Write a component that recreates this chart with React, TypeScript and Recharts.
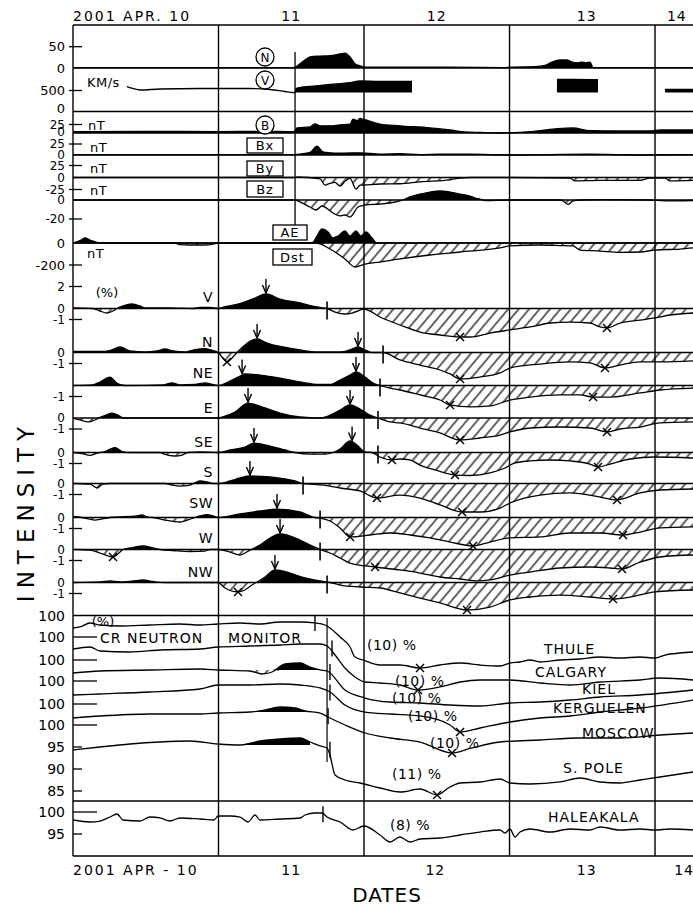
import React from 'react';
import { ComposedChart, Line, Area, Scatter, XAxis, YAxis, ReferenceLine } from 'recharts';

const W = 693;
const H = 907;
const T0 = 10;
const T1 = 14.261;
const FONT = '"DejaVu Sans", "Liberation Sans", Arial, sans-serif';
const HATCH = 'hatch45';

type P = [number, number | null];

// ---------- time axis ----------
const DAY_LINES = [11, 12, 13, 14];
const SHOCK_TIME = 11.526;
const NM_ONSET_TIME = 11.746;
const TOP_TICKS = [10.0, 11.5, 12.5, 13.53, 14.15];
const TOP_TICK_LABELS = ['2001 APR. 10', '11', '12', '13', '14'];
const BOTTOM_TICKS = [10.0, 11.5, 12.49, 13.53, 14.2];
const BOTTOM_TICK_LABELS = ['2001 APR - 10', '11', '12', '13', '14'];

// ---------- solar wind / IMF / geomagnetic ----------
const SW_DENSITY: P[] = [[10.0,1],[11.51,1],[11.526,2],[11.56,10],[11.595,19],[11.629,26],[11.698,28],[11.766,29],[11.835,33],[11.869,35],[11.904,26],[11.938,10],[11.973,5],[12.007,2],[12.247,2],[12.591,2],[12.969,1],[13.003,2],[13.175,3],[13.244,6],[13.292,14],[13.347,19],[13.395,19],[13.43,14],[13.471,12],[13.498,14],[13.526,12],[13.553,14],[13.574,1],[14.261,1]];
const SW_SPEED: P[] = [[10.371,595],[10.412,548],[10.46,512],[10.598,536],[10.873,548],[10.997,548],[11.216,548],[11.354,524],[11.457,476],[11.512,452],[11.526,450],[11.533,548],[11.56,571],[11.629,595],[11.766,643],[11.904,690],[11.973,726],[12.11,714],[12.247,714],[12.33,714],[12.337,null],[13.326,762],[13.45,762],[13.608,756],[13.612,null],[14.069,524],[14.261,524]];
const IMF_B: P[] = [[10.0,4],[10.5,5],[11.0,4],[11.3,5],[11.52,4],[11.54,15],[11.629,18],[11.663,27],[11.698,21],[11.766,21],[11.835,24],[11.904,26],[11.924,41],[11.952,36],[11.973,43],[12.0,40],[12.11,26],[12.247,21],[12.454,15],[12.591,9],[12.694,3],[12.797,1.5],[12.935,0],[13.003,0.5],[13.141,4],[13.313,12],[13.436,15],[13.553,7],[13.759,6],[13.966,6],[14.034,9],[14.261,9]];
const IMF_BX: P[] = [[10.0,1],[11.0,1],[11.526,1],[11.56,2],[11.629,6],[11.677,20],[11.718,7],[11.766,5],[11.835,4],[11.973,5],[12.11,2],[12.247,3],[12.385,1],[12.522,2],[12.729,2],[13.003,0],[13.553,2],[13.897,0],[14.261,1]];
const IMF_BY: P[] = [[10.0,0],[11.526,0],[11.54,1],[11.698,-3],[11.732,-16],[11.766,-12],[11.801,-10],[11.835,-18],[11.869,-8],[11.904,-2],[11.945,-24],[11.973,-16],[12.0,-15.6],[12.11,-13.5],[12.247,-13],[12.385,-9],[12.591,-5],[12.66,-1],[12.729,0],[13.003,0],[13.416,-1],[13.45,-7],[13.622,-6],[13.897,-6],[13.966,-1],[14.069,-1],[14.103,-7],[14.261,-6]];
const IMF_BZ: P[] = [[10.0,0],[11.526,0],[11.56,-2],[11.629,-7.4],[11.67,-10.5],[11.711,-6.3],[11.787,-13.7],[11.835,-16.8],[11.869,-15.8],[11.904,-17.9],[11.959,-7.4],[12.007,-5.3],[12.11,-4.2],[12.213,-2.1],[12.268,0],[12.316,3.2],[12.385,6.3],[12.454,8.4],[12.522,9.5],[12.591,8.4],[12.66,6.3],[12.729,4.2],[12.763,2.1],[12.797,1],[12.832,-0.5],[13.003,0],[13.347,0],[13.368,-1],[13.402,-4.7],[13.436,-1],[13.485,0],[13.622,0.5],[13.966,0],[14.069,-1],[14.261,-0.5]];
const AE_INDEX: P[] = [[10.0,0],[10.048,200],[10.082,420],[10.117,250],[10.186,0],[11.643,0],[11.677,580],[11.711,1170],[11.753,920],[11.787,420],[11.821,580],[11.869,1000],[11.904,580],[11.945,1000],[11.979,580],[12.014,920],[12.055,420],[12.089,0],[14.261,0]];
const DST_INDEX: P[] = [[10.0,0],[10.7,0],[10.735,-15],[10.804,-18],[10.907,-18],[10.962,-10],[11.0,0],[11.67,0],[11.766,-55],[11.869,-145],[11.938,-218],[12.007,-191],[12.11,-173],[12.247,-145],[12.454,-109],[12.66,-82],[12.935,-45],[13.003,-27],[13.21,-18],[13.347,-23],[13.436,-27],[13.485,-64],[13.622,-73],[13.759,-86],[13.897,-82],[14.0,-64],[14.172,-55],[14.261,-45]];

// ---------- directional muon channels (%) ----------
const MU_V: P[] = [[10.0,0.05],[10.137,0],[10.186,-0.23],[10.234,-0.41],[10.275,-0.23],[10.302,0],[10.344,0.23],[10.405,0.41],[10.46,0.23],[10.495,0.05],[10.667,0.05],[10.825,0],[10.873,0.09],[10.942,0.09],[10.997,0],[11.024,0.09],[11.148,0.45],[11.251,0.95],[11.326,1.32],[11.423,0.86],[11.56,0.5],[11.629,0.27],[11.698,0.09],[11.746,0],[11.801,-0.32],[11.869,-0.5],[11.918,-0.41],[11.959,-0.23],[11.993,-0.05],[12.014,-0.09],[12.11,-0.77],[12.247,-1.5],[12.385,-2.14],[12.522,-2.41],[12.66,-2.59],[12.729,-2.59],[12.866,-2.23],[13.003,-1.95],[13.141,-1.68],[13.278,-1.32],[13.416,-1.23],[13.553,-1.32],[13.622,-1.68],[13.67,-1.77],[13.759,-1.32],[13.897,-1.05],[14.0,-0.86],[14.103,-0.59],[14.261,-0.41]];
const MU_N: P[] = [[10.0,0.09],[10.186,0.09],[10.254,0.18],[10.323,0.5],[10.392,0.14],[10.495,0.05],[10.577,0.14],[10.632,0.32],[10.687,0.14],[10.77,0.05],[10.838,0.27],[10.907,0.36],[10.962,0.18],[10.997,0],[11.024,-0.41],[11.058,-0.86],[11.093,-0.5],[11.127,0],[11.182,0.68],[11.237,1.14],[11.265,1.23],[11.333,0.86],[11.443,0.5],[11.56,0.23],[11.677,0.05],[11.835,0.05],[11.883,0.14],[11.924,0.36],[11.959,0.5],[12.007,0.23],[12.055,0],[12.131,0],[12.247,-0.68],[12.385,-1.14],[12.522,-1.59],[12.591,-1.95],[12.66,-2.41],[12.797,-2.23],[12.935,-1.86],[13.003,-1.41],[13.21,-1.05],[13.416,-0.86],[13.553,-0.95],[13.656,-1.41],[13.759,-1.14],[13.897,-0.86],[14.034,-0.86],[14.261,-0.77]];
const MU_NE: P[] = [[10.0,0],[10.131,0.05],[10.186,0.32],[10.254,0.77],[10.309,0.14],[10.357,0],[10.619,0.05],[10.68,0.23],[10.735,0.05],[10.838,0.09],[10.907,0.23],[10.962,0.09],[10.997,0],[11.079,0.41],[11.148,0.86],[11.182,1.05],[11.285,0.95],[11.423,0.68],[11.56,0.32],[11.698,0.09],[11.766,0.09],[11.835,0.5],[11.904,0.95],[11.945,1.23],[12.007,0.77],[12.062,0.23],[12.11,0],[12.179,-0.23],[12.247,-0.41],[12.385,-0.86],[12.522,-1.32],[12.591,-1.77],[12.729,-1.95],[12.866,-1.86],[13.003,-1.32],[13.141,-1.05],[13.347,-0.86],[13.485,-0.86],[13.574,-1.05],[13.691,-1.05],[13.897,-0.68],[14.034,-0.41],[14.261,-0.23]];
const MU_E: P[] = [[10.0,0],[10.048,-0.18],[10.103,-0.36],[10.165,-0.09],[10.186,0.05],[10.227,0.27],[10.268,0.45],[10.309,0.27],[10.344,0],[10.997,0],[11.024,0.09],[11.113,0.55],[11.203,1.36],[11.32,0.91],[11.423,0.45],[11.56,0.09],[11.698,0],[11.753,0.18],[11.835,0.73],[11.904,1.18],[11.973,0.82],[12.041,0.27],[12.096,0],[12.179,-0.36],[12.247,-0.45],[12.385,-0.91],[12.522,-1.36],[12.66,-2.0],[12.797,-1.82],[12.935,-1.55],[13.003,-1.27],[13.141,-0.91],[13.347,-0.82],[13.553,-0.91],[13.67,-1.27],[13.759,-1.0],[13.897,-0.82],[14.034,-0.45],[14.261,-0.36]];
const MU_SE: P[] = [[10.0,0],[10.062,-0.09],[10.117,-0.27],[10.165,-0.05],[10.22,0.09],[10.289,0.45],[10.337,0.09],[10.392,0],[10.598,0],[10.632,-0.18],[10.701,-0.32],[10.749,-0.23],[10.79,0],[10.873,0.05],[10.997,0],[11.079,0.23],[11.182,0.5],[11.244,0.86],[11.354,0.59],[11.457,0.23],[11.526,0],[11.629,-0.14],[11.732,-0.14],[11.787,0],[11.835,0.32],[11.904,1.05],[11.959,0.59],[12.007,0.05],[12.055,0],[12.11,-0.41],[12.192,-0.68],[12.247,-0.59],[12.316,-0.68],[12.385,-1.14],[12.488,-1.59],[12.625,-2.05],[12.729,-2.09],[12.866,-1.86],[12.969,-1.41],[13.038,-0.95],[13.141,-0.77],[13.278,-0.68],[13.416,-0.77],[13.553,-1.05],[13.608,-1.32],[13.691,-1.05],[13.828,-0.59],[14.0,-0.41],[14.261,-0.5]];
const MU_S: P[] = [[10.0,0],[10.117,-0.05],[10.165,-0.41],[10.206,-0.05],[10.254,0],[10.632,0],[10.68,-0.14],[10.735,-0.23],[10.804,-0.14],[10.838,0.05],[10.873,0.23],[10.921,0.14],[10.962,0],[10.997,0],[11.079,0.23],[11.148,0.5],[11.216,0.68],[11.354,0.59],[11.457,0.41],[11.526,0.23],[11.581,0],[11.629,-0.05],[11.766,-0.23],[11.835,-0.41],[11.973,-0.68],[12.089,-1.32],[12.247,-1.05],[12.385,-1.32],[12.522,-1.95],[12.674,-2.59],[12.797,-2.59],[12.935,-2.23],[13.003,-1.77],[13.21,-1.05],[13.416,-0.86],[13.622,-1.23],[13.739,-1.5],[13.897,-0.86],[14.034,-0.59],[14.261,-0.5]];
const MU_SW: P[] = [[10.0,0.09],[10.062,0],[10.151,-0.23],[10.254,0],[10.44,0.14],[10.474,0.23],[10.509,0.05],[10.55,0],[10.632,-0.23],[10.735,-0.41],[10.825,-0.05],[10.873,0.14],[10.921,0.27],[10.962,0.14],[10.997,0],[11.148,0.32],[11.285,0.59],[11.402,0.77],[11.56,0.5],[11.629,0.14],[11.663,0],[11.698,-0.05],[11.766,-0.32],[11.835,-0.95],[11.904,-1.77],[12.041,-1.59],[12.179,-1.41],[12.316,-1.59],[12.454,-1.86],[12.591,-2.23],[12.749,-2.59],[12.866,-2.23],[13.003,-1.86],[13.21,-1.77],[13.416,-1.41],[13.622,-1.41],[13.78,-1.59],[13.897,-1.32],[14.034,-0.95],[14.261,-0.86]];
const MU_W: P[] = [[10.0,0],[10.117,-0.05],[10.186,-0.32],[10.275,-0.68],[10.323,-0.23],[10.344,0],[10.412,0.18],[10.481,0.32],[10.55,0.14],[10.598,0],[10.687,-0.09],[10.804,-0.18],[10.907,-0.14],[10.942,0],[10.997,0],[11.079,-0.23],[11.148,-0.5],[11.216,-0.05],[11.285,0.41],[11.354,1.05],[11.423,1.41],[11.56,0.86],[11.629,0.41],[11.698,0],[11.766,-0.32],[11.835,-0.77],[11.904,-1.23],[12.076,-1.59],[12.247,-1.86],[12.385,-2.14],[12.522,-2.5],[12.66,-2.68],[12.784,-2.86],[12.866,-2.77],[13.003,-2.32],[13.141,-2.05],[13.347,-1.68],[13.553,-1.59],[13.691,-1.68],[13.773,-1.77],[13.897,-1.14],[14.034,-0.68],[14.261,-0.5]];
const MU_NW: P[] = [[10.0,0],[10.186,0.05],[10.254,0.14],[10.323,0.05],[10.412,0.14],[10.481,0.23],[10.55,0.09],[10.632,0],[10.997,0],[11.045,-0.5],[11.134,-0.86],[11.182,-0.68],[11.23,-0.23],[11.258,0],[11.32,0.5],[11.388,1.14],[11.491,0.86],[11.595,0.41],[11.698,0.14],[11.766,0],[11.835,-0.23],[11.973,-0.41],[12.11,-0.5],[12.247,-0.95],[12.385,-1.41],[12.522,-1.86],[12.708,-2.5],[12.866,-2.23],[13.003,-1.59],[13.141,-1.32],[13.347,-1.14],[13.553,-1.32],[13.711,-1.5],[13.828,-1.32],[14.0,-0.86],[14.261,-0.68]];

// peaks (arrows), minima (crosses), onsets (bars) per channel
const ARROWS_V: P[] = [[11.326,1.32]];
const ARROWS_N: P[] = [[11.265,1.23],[11.959,0.5]];
const ARROWS_NE: P[] = [[11.162,1.0],[11.945,1.23]];
const ARROWS_E: P[] = [[11.203,1.36],[11.904,1.18]];
const ARROWS_SE: P[] = [[11.244,0.86],[11.918,1.0]];
const ARROWS_S: P[] = [[11.216,0.68]];
const ARROWS_SW: P[] = [[11.402,0.77]];
const ARROWS_W: P[] = [[11.423,1.41]];
const ARROWS_NW: P[] = [[11.388,1.14]];
const CROSS_V: P[] = [[12.66,-2.59],[13.67,-1.77]];
const CROSS_N: P[] = [[11.058,-0.86],[12.66,-2.41],[13.656,-1.41]];
const CROSS_NE: P[] = [[12.591,-1.77],[13.574,-1.05]];
const CROSS_E: P[] = [[12.66,-2.0],[13.67,-1.27]];
const CROSS_SE: P[] = [[12.192,-0.68],[12.625,-2.05],[13.608,-1.32]];
const CROSS_S: P[] = [[12.089,-1.32],[12.674,-2.59],[13.739,-1.5]];
const CROSS_SW: P[] = [[11.904,-1.77],[12.749,-2.59],[13.78,-1.59]];
const CROSS_W: P[] = [[10.275,-0.68],[12.076,-1.59],[13.773,-1.77]];
const CROSS_NW: P[] = [[11.134,-0.86],[12.708,-2.5],[13.711,-1.5]];
const ONSET_V: P[] = [[11.746,0]];
const ONSET_N: P[] = [[12.131,0]];
const ONSET_NE: P[] = [[12.11,0]];
const ONSET_E: P[] = [[12.096,0]];
const ONSET_SE: P[] = [[12.096,0]];
const ONSET_S: P[] = [[11.581,0]];
const ONSET_SW: P[] = [[11.698,0]];
const ONSET_W: P[] = [[11.698,0]];
const ONSET_NW: P[] = [[11.746,0]];

// ---------- neutron monitors (%) ----------
const NM_THULE: P[] = [[10.0,97.16],[10.048,97.39],[10.117,98.3],[10.186,97.84],[10.323,97.61],[10.529,97.84],[10.735,98.07],[10.873,97.84],[10.997,98.07],[11.148,98.3],[11.285,98.07],[11.423,98.52],[11.56,98.52],[11.663,98.3],[11.732,97.84],[11.766,97.16],[11.835,95.11],[11.904,92.84],[11.938,90.57],[11.993,89.89],[12.11,88.75],[12.247,88.75],[12.385,88.07],[12.522,88.75],[12.66,89.2],[12.797,88.75],[12.935,88.52],[13.003,89.2],[13.072,89.43],[13.141,89.89],[13.21,89.43],[13.347,89.89],[13.485,90.11],[13.622,90.57],[13.759,90.34],[13.897,90.57],[14.0,90.34],[14.069,91.02],[14.172,91.48],[14.261,91.7]];
const NM_CALGARY: P[] = [[10.0,97.27],[10.117,97.73],[10.186,96.82],[10.392,96.59],[10.598,97.05],[10.873,97.27],[10.997,97.73],[11.216,97.95],[11.423,98.18],[11.56,98.41],[11.698,98.41],[11.746,97.95],[11.801,95.91],[11.869,92.95],[11.938,90.91],[12.007,89.77],[12.11,89.55],[12.247,89.09],[12.371,87.95],[12.522,88.64],[12.66,89.77],[12.797,90.23],[13.003,90.23],[13.21,89.55],[13.416,89.09],[13.622,89.77],[13.897,90.23],[14.034,90.68],[14.261,90.23]];
const NM_KIEL: P[] = [[10.0,97.05],[10.186,97.5],[10.529,97.73],[10.873,97.95],[10.997,97.73],[11.216,97.5],[11.299,96.82],[11.368,97.27],[11.457,99.09],[11.56,99.32],[11.629,98.41],[11.698,97.73],[11.746,97.5],[11.869,93.18],[12.007,91.36],[12.179,90.45],[12.385,90.23],[12.591,89.77],[12.797,89.55],[13.003,90.23],[13.21,90.45],[13.416,90.91],[13.622,91.59],[13.897,92.05],[14.261,93.18]];
const NM_KERGUELEN: P[] = [[10.0,96.82],[10.186,97.05],[10.529,97.5],[10.873,98.18],[10.997,99.09],[11.216,99.09],[11.423,99.32],[11.56,99.09],[11.698,98.41],[11.766,97.5],[11.869,94.55],[12.007,92.95],[12.179,92.5],[12.385,92.05],[12.591,90.0],[12.66,88.41],[12.797,89.32],[13.003,90.68],[13.21,91.59],[13.416,92.05],[13.622,92.95],[13.897,93.86],[14.261,95.68]];
const NM_MOSCOW: P[] = [[10.0,96.82],[10.186,97.27],[10.529,97.73],[10.873,97.73],[10.997,97.95],[11.216,98.18],[11.32,98.64],[11.423,99.32],[11.526,99.09],[11.595,98.41],[11.698,97.95],[11.766,96.82],[11.869,95.23],[12.007,93.41],[12.179,92.27],[12.385,91.36],[12.605,88.86],[12.729,89.89],[12.935,91.36],[13.21,91.82],[13.485,92.27],[13.759,92.27],[14.034,92.95],[14.261,93.41]];
const NM_SOUTH_POLE: P[] = [[10.0,94.32],[10.186,95.0],[10.392,95.68],[10.598,96.14],[10.804,96.36],[10.997,95.68],[11.148,95.45],[11.285,96.36],[11.423,96.82],[11.56,97.05],[11.629,96.14],[11.698,95.23],[11.746,94.77],[11.766,93.18],[11.801,88.64],[11.869,87.5],[11.973,86.82],[12.11,85.68],[12.247,84.77],[12.385,85.45],[12.502,84.09],[12.591,85.91],[12.66,86.82],[12.797,87.05],[12.935,87.73],[13.003,86.82],[13.141,86.59],[13.347,87.05],[13.485,87.95],[13.622,87.05],[13.759,86.82],[13.897,87.5],[14.034,88.18],[14.261,89.32]];
const NM_HALEAKALA: P[] = [[10.0,98.18],[10.117,97.73],[10.186,97.95],[10.254,98.86],[10.302,99.55],[10.344,98.18],[10.46,97.95],[10.529,98.86],[10.598,98.64],[10.667,97.95],[10.735,98.64],[10.873,98.41],[10.969,98.18],[10.997,99.09],[11.079,99.09],[11.148,98.86],[11.203,97.73],[11.251,99.32],[11.285,98.18],[11.423,98.41],[11.56,98.64],[11.595,99.32],[11.663,99.77],[11.711,99.77],[11.746,98.86],[11.835,97.73],[11.924,95.91],[12.0,96.82],[12.11,94.77],[12.179,93.18],[12.247,94.32],[12.316,93.18],[12.385,93.86],[12.522,94.09],[12.66,94.77],[12.797,95.45],[12.935,95.91],[12.969,95.23],[13.003,96.14],[13.038,94.32],[13.072,95.45],[13.141,96.14],[13.278,95.45],[13.416,96.14],[13.553,95.91],[13.622,96.59],[13.759,95.91],[13.897,96.14],[14.0,95.91],[14.103,96.14],[14.261,95.91]];
const NM_CROSS_THULE: P[] = [[12.385,88.07]];
const NM_CROSS_CALGARY: P[] = [[12.371,87.95]];
const NM_CROSS_KERGUELEN: P[] = [[12.66,88.41]];
const NM_CROSS_MOSCOW: P[] = [[12.605,88.86]];
const NM_CROSS_SPOLE: P[] = [[12.502,84.09]];
const NM_ONSET_THULE: P[] = [[11.663,98.3]];
const NM_ONSET_CALGARY: P[] = [[11.78,97.4]];
const NM_ONSET_KIEL: P[] = [[11.766,97.3]];
const NM_ONSET_KERGUELEN: P[] = [[11.766,97.4]];
const NM_ONSET_MOSCOW: P[] = [[11.753,97.2]];
const NM_ONSET_SPOLE: P[] = [[11.766,94.4]];
const NM_ONSET_HALEAKALA: P[] = [[11.718,99.5]];

// ---------- panel layout ----------
type Tick = { v: number; label: string; len?: 'std' | 'long' | 'short' | 'none' };
type Mark = { kind: 'x' | 'arrow' | 'bar' | 'nmbar'; pts: P[] };
interface Panel {
  key: string;
  yRef: number;
  ref: number;
  ppu: number;
  series: P[];
  fillBase?: number;
  fillUp?: boolean;
  fillDown?: boolean;
  fillFrom?: number;
  fillTo?: number;
  baseline?: boolean;
  ticks?: Tick[];
  tickSize?: number;
  marks?: Mark[];
}

const chMarks = (a: P[], c: P[], o: P[]): Mark[] => [
  { kind: 'arrow', pts: a },
  { kind: 'x', pts: c },
  { kind: 'bar', pts: o },
];
const nmMarks = (c: P[], o: P[]): Mark[] => [
  { kind: 'x', pts: c },
  { kind: 'nmbar', pts: o },
];

const CH = 12; // tick font for the tightly stacked channels

const PANELS: Panel[] = [
  { key: 'dens', yRef: 68, ref: 0, ppu: 0.426, series: SW_DENSITY, fillUp: true, baseline: true, ticks: [{ v: 50, label: '50' }, { v: 0, label: '0', len: 'none' }] },
  { key: 'speed', yRef: 111.5, ref: 0, ppu: 0.042, series: SW_SPEED, fillUp: true, fillBase: 450, fillFrom: SHOCK_TIME, baseline: true, ticks: [{ v: 500, label: '500' }, { v: 80, label: '0', len: 'none' }] },
  { key: 'b', yRef: 133, ref: 0, ppu: 0.34, series: IMF_B, fillUp: true, baseline: true, tickSize: 12, ticks: [{ v: 25, label: '25' }, { v: 3, label: '0', len: 'none' }] },
  { key: 'bx', yRef: 155, ref: 0, ppu: 0.44, series: IMF_BX, fillUp: true, fillDown: true, baseline: true, tickSize: 12, ticks: [{ v: 25, label: '25' }, { v: 0, label: '0', len: 'none' }] },
  { key: 'by', yRef: 177.5, ref: 0, ppu: 0.48, series: IMF_BY, fillUp: true, fillDown: true, baseline: true, tickSize: 12, ticks: [{ v: 25, label: '25' }, { v: 0, label: '0', len: 'none' }, { v: -25, label: '-25' }] },
  { key: 'bz', yRef: 200, ref: 0, ppu: 0.95, series: IMF_BZ, fillUp: true, fillDown: true, baseline: true, tickSize: 12, ticks: [{ v: 0, label: '0', len: 'none' }, { v: -20, label: '-20' }] },
  { key: 'ae', yRef: 243, ref: 0, ppu: 0.012, series: AE_INDEX, fillUp: true, baseline: true },
  { key: 'dst', yRef: 243, ref: 0, ppu: 0.11, series: DST_INDEX, fillDown: true, baseline: false, ticks: [{ v: 0, label: '0', len: 'none' }, { v: -200, label: '-200' }] },
  { key: 'muV', yRef: 308.5, ref: 0, ppu: 11, series: MU_V, fillUp: true, fillDown: true, baseline: true, tickSize: CH, ticks: [{ v: 2, label: '2' }, { v: 0, label: '0', len: 'none' }, { v: -1, label: '-1' }], marks: chMarks(ARROWS_V, CROSS_V, ONSET_V) },
  { key: 'muN', yRef: 352.5, ref: 0, ppu: 11, series: MU_N, fillUp: true, fillDown: true, baseline: true, tickSize: CH, ticks: [{ v: 0, label: '0', len: 'none' }, { v: -1, label: '-1' }], marks: chMarks(ARROWS_N, CROSS_N, ONSET_N) },
  { key: 'muNE', yRef: 385.5, ref: 0, ppu: 11, series: MU_NE, fillUp: true, fillDown: true, baseline: true, tickSize: CH, ticks: [{ v: -1, label: '-1' }], marks: chMarks(ARROWS_NE, CROSS_NE, ONSET_NE) },
  { key: 'muE', yRef: 418, ref: 0, ppu: 11, series: MU_E, fillUp: true, fillDown: true, baseline: true, tickSize: CH, ticks: [{ v: 0, label: '0', len: 'none' }, { v: -1, label: '-1' }], marks: chMarks(ARROWS_E, CROSS_E, ONSET_E) },
  { key: 'muSE', yRef: 452.5, ref: 0, ppu: 11, series: MU_SE, fillUp: true, fillDown: true, baseline: true, tickSize: CH, ticks: [{ v: 0, label: '0', len: 'none' }, { v: -1, label: '-1' }], marks: chMarks(ARROWS_SE, CROSS_SE, ONSET_SE) },
  { key: 'muS', yRef: 483.5, ref: 0, ppu: 11, series: MU_S, fillUp: true, fillDown: true, baseline: true, tickSize: CH, ticks: [{ v: 0, label: '0', len: 'none' }, { v: -1, label: '-1' }], marks: chMarks(ARROWS_S, CROSS_S, ONSET_S) },
  { key: 'muSW', yRef: 517.5, ref: 0, ppu: 11, series: MU_SW, fillUp: true, fillDown: true, baseline: true, tickSize: CH, ticks: [{ v: 0, label: '0', len: 'none' }, { v: -1, label: '-1' }], marks: chMarks(ARROWS_SW, CROSS_SW, ONSET_SW) },
  { key: 'muW', yRef: 549.5, ref: 0, ppu: 11, series: MU_W, fillUp: true, fillDown: true, baseline: true, tickSize: CH, ticks: [{ v: 0, label: '0', len: 'none' }, { v: -1, label: '-1' }], marks: chMarks(ARROWS_W, CROSS_W, ONSET_W) },
  { key: 'muNW', yRef: 582.5, ref: 0, ppu: 11, series: MU_NW, fillUp: true, fillDown: true, baseline: true, tickSize: CH, ticks: [{ v: 0, label: '0', len: 'none' }, { v: -1, label: '-1' }], marks: chMarks(ARROWS_NW, CROSS_NW, ONSET_NW) },
  { key: 'thule', yRef: 615.5, ref: 100, ppu: 4.4, series: NM_THULE, baseline: true, ticks: [{ v: 100, label: '100', len: 'none' }], tickSize: 14, marks: nmMarks(NM_CROSS_THULE, NM_ONSET_THULE) },
  { key: 'calgary', yRef: 637, ref: 100, ppu: 4.4, series: NM_CALGARY, ticks: [{ v: 100, label: '100', len: 'long' }], tickSize: 14, marks: nmMarks(NM_CROSS_CALGARY, NM_ONSET_CALGARY) },
  { key: 'kiel', yRef: 660, ref: 100, ppu: 4.4, series: NM_KIEL, fillUp: true, fillDown: true, fillBase: 97.7, fillFrom: 11.2, fillTo: 11.7, ticks: [{ v: 100, label: '100', len: 'long' }], tickSize: 14, marks: nmMarks([], NM_ONSET_KIEL) },
  { key: 'kerguelen', yRef: 681, ref: 100, ppu: 4.4, series: NM_KERGUELEN, ticks: [{ v: 100, label: '100', len: 'long' }], tickSize: 14, marks: nmMarks(NM_CROSS_KERGUELEN, NM_ONSET_KERGUELEN) },
  { key: 'moscow', yRef: 704, ref: 100, ppu: 4.4, series: NM_MOSCOW, fillUp: true, fillBase: 98.2, fillFrom: 11.216, fillTo: 11.64, ticks: [{ v: 100, label: '100', len: 'long' }], tickSize: 14, marks: nmMarks(NM_CROSS_MOSCOW, NM_ONSET_MOSCOW) },
  { key: 'spole', yRef: 725, ref: 100, ppu: 4.4, series: NM_SOUTH_POLE, fillUp: true, fillBase: 95.45, fillFrom: 11.148, fillTo: 11.67, ticks: [{ v: 100, label: '100', len: 'long' }, { v: 95, label: '95', len: 'short' }, { v: 90, label: '90', len: 'short' }, { v: 85, label: '85', len: 'short' }], tickSize: 14, marks: nmMarks(NM_CROSS_SPOLE, NM_ONSET_SPOLE) },
  { key: 'haleakala', yRef: 812, ref: 100, ppu: 4.4, series: NM_HALEAKALA, ticks: [{ v: 100, label: '100', len: 'long' }, { v: 95, label: '95', len: 'short' }], tickSize: 14, marks: nmMarks([], NM_ONSET_HALEAKALA) },
];

// ---------- marks ----------
const markShape = (kind: Mark['kind']) => (p: any) => {
  const cx = p.cx;
  const cy = p.cy;
  if (cx == null || cy == null) return <g />;
  const s = { stroke: '#000', strokeWidth: 1.4, fill: 'none' };
  if (kind === 'x') {
    return (
      <g>
        <line x1={cx - 4} y1={cy - 4} x2={cx + 4} y2={cy + 4} {...s} />
        <line x1={cx - 4} y1={cy + 4} x2={cx + 4} y2={cy - 4} {...s} />
      </g>
    );
  }
  if (kind === 'arrow') {
    return (
      <g>
        <line x1={cx} y1={cy - 15} x2={cx} y2={cy - 1} {...s} />
        <polyline points={`${cx - 3.5},${cy - 9} ${cx},${cy - 1} ${cx + 3.5},${cy - 9}`} {...s} />
      </g>
    );
  }
  if (kind === 'bar') {
    return <line x1={cx} y1={cy - 7} x2={cx} y2={cy + 11} stroke="#000" strokeWidth={1.6} />;
  }
  return <line x1={cx} y1={cy - 8} x2={cx} y2={cy + 8} stroke="#000" strokeWidth={1.4} />;
};

const buildRows = (pn: Panel) => {
  const b = pn.fillBase ?? pn.ref;
  return pn.series.map(([t, v]) => {
    const inWin = (pn.fillFrom == null || t >= pn.fillFrom) && (pn.fillTo == null || t <= pn.fillTo);
    return {
      t,
      v,
      up: v == null || !inWin || !pn.fillUp ? null : [b, Math.max(v, b)],
      dn: v == null || !inWin || !pn.fillDown ? null : [Math.min(v, b), b],
    };
  });
};

const YTick = (props: any) => {
  const { y, payload, defs, size } = props;
  const d: Tick | undefined = defs.find((k: Tick) => Math.abs(k.v - payload.value) < 1e-6);
  if (!d) return <g />;
  const len = d.len ?? 'std';
  return (
    <g>
      {d.label && (
        <text x={65} y={y} dy="0.36em" textAnchor="end" fontSize={size} fontFamily={FONT} fill="#000">
          {d.label}
        </text>
      )}
      {len === 'std' && <line x1={69} x2={82} y1={y} y2={y} stroke="#000" strokeWidth={1.3} />}
      {len === 'long' && <line x1={73} x2={97} y1={y} y2={y} stroke="#000" strokeWidth={1.3} />}
      {len === 'short' && <line x1={73} x2={82} y1={y} y2={y} stroke="#000" strokeWidth={1.3} />}
    </g>
  );
};

function PanelChart({ pn }: { pn: Panel }) {
  const rows = buildRows(pn);
  const hi = pn.ref + pn.yRef / pn.ppu;
  const lo = pn.ref - (H - pn.yRef) / pn.ppu;
  const ticks = (pn.ticks ?? []).map((k) => k.v);
  return (
    <div style={{ position: 'absolute', left: 0, top: 0 }}>
      <ComposedChart width={W} height={H} data={rows} margin={{ top: 0, right: 0, bottom: 0, left: 0 }}>
        <XAxis type="number" dataKey="t" domain={[T0, T1]} allowDataOverflow hide />
        <YAxis
          type="number"
          domain={[lo, hi]}
          allowDataOverflow
          width={73}
          ticks={ticks}
          interval={0}
          axisLine={false}
          tickLine={false}
          tick={(p: any) => <YTick {...p} defs={pn.ticks ?? []} size={pn.tickSize ?? 13} />}
        />
        {pn.baseline && <ReferenceLine y={pn.ref} stroke="#000" strokeWidth={1.3} ifOverflow="visible" />}
        {pn.fillUp && (
          <Area type="monotone" dataKey="up" stroke="none" fill="#000" fillOpacity={1} isAnimationActive={false} connectNulls={false} activeDot={false} />
        )}
        {pn.fillDown && (
          <Area type="monotone" dataKey="dn" stroke="none" fill={`url(#${HATCH})`} fillOpacity={1} isAnimationActive={false} connectNulls={false} activeDot={false} />
        )}
        <Line type="monotone" dataKey="v" stroke="#000" strokeWidth={1.3} dot={false} activeDot={false} connectNulls={false} isAnimationActive={false} />
        {(pn.marks ?? []).filter((m) => m.pts.length > 0).map((m, i) => (
          <Scatter
            key={`${pn.key}-${m.kind}-${i}`}
            data={m.pts.map(([t, v]) => ({ t, v }))}
            dataKey="v"
            shape={markShape(m.kind)}
            isAnimationActive={false}
          />
        ))}
      </ComposedChart>
    </div>
  );
}

const TopTick = (p: any) => {
  const i = p.index;
  return (
    <text x={p.x} y={21} textAnchor={i === 0 ? 'start' : 'middle'} fontSize={14} letterSpacing={i === 0 ? 2 : 1} fontFamily={FONT} fill="#000">
      {TOP_TICK_LABELS[i]}
    </text>
  );
};
const BottomTick = (p: any) => {
  const i = p.index;
  return (
    <text x={p.x} y={875} textAnchor={i === 0 ? 'start' : 'middle'} fontSize={14} letterSpacing={i === 0 ? 2 : 1} fontFamily={FONT} fill="#000">
      {BOTTOM_TICK_LABELS[i]}
    </text>
  );
};

// frame uses a pixel-height y scale (0 at top) so frame rules can be placed at the panel edges
const FRAME_ROWS = [{ t: T0, y: 0 }, { t: T1, y: 0 }];
const FRAME_TOP = 25;
const FRAME_BOTTOM = 856;
const NM_SEPARATOR = 801;

function FrameChart() {
  const seg = (x1: number, y1: number, x2: number, y2: number, k: string, w = 1.4) => (
    <ReferenceLine key={k} segment={[{ x: x1, y: y1 }, { x: x2, y: y2 }]} stroke="#000" strokeWidth={w} ifOverflow="visible" />
  );
  return (
    <div style={{ position: 'absolute', left: 0, top: 0 }}>
      <ComposedChart width={W} height={H} data={FRAME_ROWS} margin={{ top: 0, right: 0, bottom: 0, left: 0 }}>
        <XAxis type="number" dataKey="t" domain={[T0, T1]} allowDataOverflow hide />
        <XAxis xAxisId="top" orientation="top" mirror type="number" dataKey="t" domain={[T0, T1]} allowDataOverflow ticks={TOP_TICKS} interval={0} tickLine={false} axisLine={false} tick={TopTick} />
        <XAxis xAxisId="bot" orientation="bottom" mirror type="number" dataKey="t" domain={[T0, T1]} allowDataOverflow ticks={BOTTOM_TICKS} interval={0} tickLine={false} axisLine={false} tick={BottomTick} />
        <YAxis type="number" domain={[0, H]} reversed allowDataOverflow width={73} tick={false} tickLine={false} axisLine={false} />
        <Line dataKey="y" stroke="none" dot={false} activeDot={false} isAnimationActive={false} />
        {seg(T0, FRAME_TOP, T1, FRAME_TOP, 'top')}
        {seg(T0, FRAME_BOTTOM, T1, FRAME_BOTTOM, 'bottom')}
        {seg(T0, FRAME_TOP, T0, FRAME_BOTTOM, 'left')}
        {seg(T0, NM_SEPARATOR, T1, NM_SEPARATOR, 'sep', 1.3)}
        {DAY_LINES.map((d) => seg(d, FRAME_TOP, d, FRAME_BOTTOM, `d${d}`))}
        {seg(SHOCK_TIME, 52, SHOCK_TIME, 236, 'shock', 1.3)}
        {seg(NM_ONSET_TIME, 618, NM_ONSET_TIME, 762, 'nmonset', 1.2)}
      </ComposedChart>
    </div>
  );
}

const txt = (x: number, y: number, s: string, size = 14, anchor: 'start' | 'middle' | 'end' = 'start', ls = 0.5) => (
  <text key={`${s}-${x}-${y}`} x={x} y={y} fontSize={size} textAnchor={anchor} dominantBaseline="central" fontFamily={FONT} letterSpacing={ls} fill="#000">
    {s}
  </text>
);

function Overlay() {
  const circ = (x: number, y: number, s: string) => (
    <g key={`c-${s}`}>
      <circle cx={x} cy={y} r={9} fill="#fff" stroke="#000" strokeWidth={1.3} />
      {txt(x, y + 0.5, s, 12, 'middle', 0)}
    </g>
  );
  const box = (x: number, y: number, w: number, h: number, s: string) => (
    <g key={`b-${s}`}>
      <rect x={x} y={y} width={w} height={h} fill="#fff" stroke="#000" strokeWidth={1.3} />
      {txt(x + w / 2, y + h / 2, s, 13, 'middle', 1)}
    </g>
  );
  return (
    <svg width={W} height={H} style={{ position: 'absolute', left: 0, top: 0 }}>
      {txt(87, 82, 'KM/s', 13)}
      {txt(88, 125, 'nT', 13)}
      {txt(90, 147, 'nT', 13)}
      {txt(90, 168, 'nT', 13)}
      {txt(90, 190, 'nT', 13)}
      {txt(87, 253, 'nT', 13)}
      {circ(265, 57, 'N')}
      {circ(265, 80, 'V')}
      {circ(265, 125, 'B')}
      {box(247, 138, 36, 15, 'Bx')}
      {box(247, 161, 36, 15, 'By')}
      {box(247, 181, 36, 16, 'Bz')}
      {box(273, 225, 34, 15, 'AE')}
      {box(273, 249, 39, 16, 'Dst')}
      {txt(107, 292, '(%)', 13, 'middle', 0)}
      {txt(213, 297, 'V', 14, 'end')}
      {txt(213, 342, 'N', 14, 'end')}
      {txt(213, 373, 'NE', 14, 'end')}
      {txt(213, 408, 'E', 14, 'end')}
      {txt(213, 442, 'SE', 14, 'end')}
      {txt(213, 472, 'S', 14, 'end')}
      {txt(213, 503, 'SW', 14, 'end')}
      {txt(213, 538, 'W', 14, 'end')}
      {txt(213, 572, 'NW', 14, 'end')}
      {txt(103, 621, '(%)', 13, 'middle', 0)}
      {txt(100, 638, 'CR NEUTRON', 14, 'start', 1)}
      {txt(228, 638, 'MONITOR', 14, 'start', 1)}
      {txt(544, 649, 'THULE', 14, 'start', 1)}
      {txt(535, 672, 'CALGARY', 14, 'start', 1)}
      {txt(582, 689, 'KIEL', 14, 'start', 1)}
      {txt(553, 708, 'KERGUELEN', 14, 'start', 1)}
      {txt(582, 733, 'MOSCOW', 14, 'start', 1)}
      {txt(563, 768, 'S. POLE', 14, 'start', 1)}
      {txt(548, 817, 'HALEAKALA', 14, 'start', 1)}
      {txt(367, 645, '(10) %', 14, 'start', 0.5)}
      {txt(395, 681, '(10) %', 14, 'start', 0.5)}
      {txt(392, 698, '(10) %', 14, 'start', 0.5)}
      {txt(408, 716, '(10) %', 14, 'start', 0.5)}
      {txt(430, 743, '(10) %', 14, 'start', 0.5)}
      {txt(392, 774, '(11) %', 14, 'start', 0.5)}
      {txt(390, 825, '(8) %', 14, 'start', 0.5)}
      <text x={26} y={511} fontSize={23} textAnchor="middle" dominantBaseline="central" fontFamily={FONT} letterSpacing={7} transform="rotate(-90 26 511)" fill="#000">
        INTENSITY
      </text>
      {txt(387, 895, 'DATES', 20, 'middle', 1)}
    </svg>
  );
}

export default function App() {
  return (
    <div style={{ position: 'absolute', left: 0, top: 0, width: W, height: H, background: '#fff', overflow: 'hidden' }}>
      <svg width={0} height={0} style={{ position: 'absolute' }}>
        <defs>
          <pattern id={HATCH} patternUnits="userSpaceOnUse" width={8} height={8} patternTransform="rotate(40)">
            <line x1={4} y1={-1} x2={4} y2={9} stroke="#000" strokeWidth={1.2} />
          </pattern>
        </defs>
      </svg>
      <FrameChart />
      {PANELS.map((pn) => (
        <PanelChart key={pn.key} pn={pn} />
      ))}
      <Overlay />
    </div>
  );
}
